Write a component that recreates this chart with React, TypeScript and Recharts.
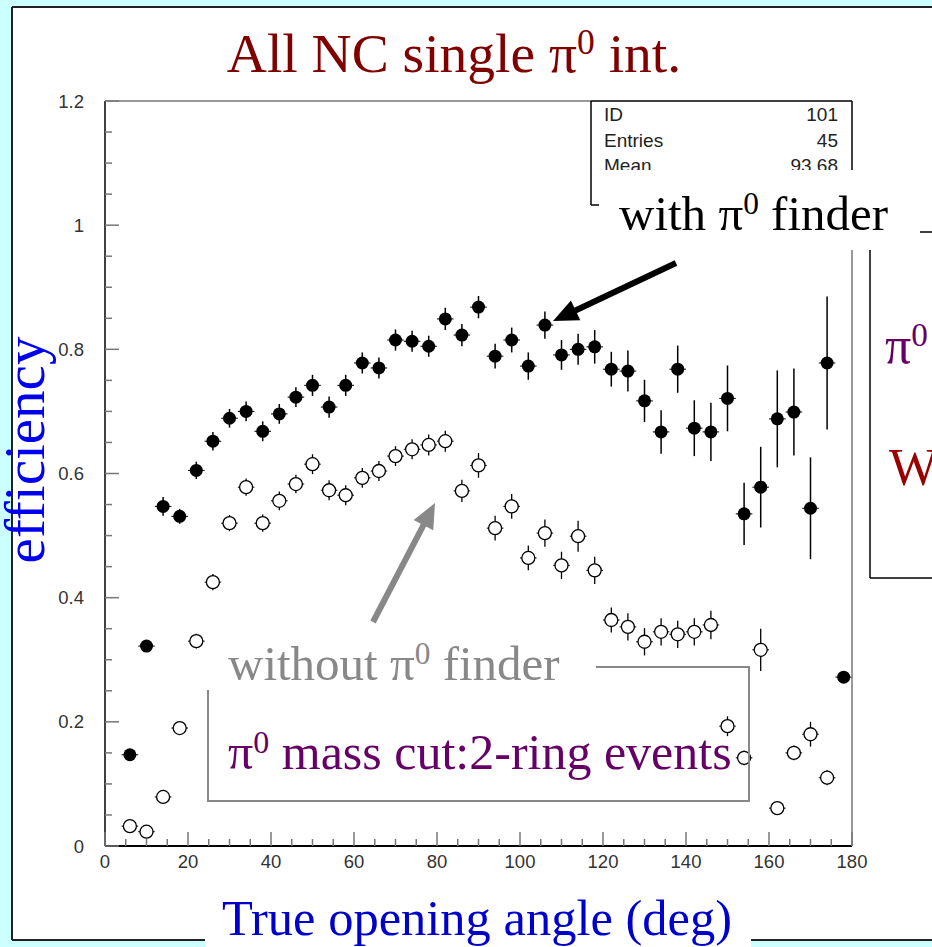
import { ScatterChart, Scatter, XAxis, YAxis, ErrorBar } from "recharts";

// bin centres (deg), 4 deg wide bins
const ANGLE = [6, 10, 14, 18, 22, 26, 30, 34, 38, 42, 46, 50, 54, 58, 62, 66, 70, 74, 78, 82, 86, 90,
  94, 98, 102, 106, 110, 114, 118, 122, 126, 130, 134, 138, 142, 146, 150, 154, 158, 162, 166, 170, 174, 178];
const HALF_BIN = 2;

// efficiency with pi0 finder (filled)
const WITH_FINDER = [0.147, 0.322, 0.547, 0.531, 0.605, 0.652, 0.689, 0.7, 0.668, 0.696, 0.723, 0.742,
  0.707, 0.742, 0.778, 0.77, 0.815, 0.813, 0.805, 0.849, 0.823, 0.868, 0.789, 0.815, 0.773, 0.839, 0.791,
  0.8, 0.804, 0.768, 0.765, 0.717, 0.667, 0.768, 0.673, 0.667, 0.721, 0.535, 0.578, 0.688, 0.699, 0.544,
  0.778, 0.272];
const WITH_FINDER_ERR = [0.008, 0.008, 0.015, 0.012, 0.014, 0.015, 0.015, 0.016, 0.016, 0.016, 0.016,
  0.017, 0.017, 0.017, 0.017, 0.017, 0.017, 0.017, 0.017, 0.018, 0.018, 0.018, 0.02, 0.02, 0.022, 0.022,
  0.024, 0.025, 0.027, 0.028, 0.033, 0.034, 0.035, 0.038, 0.045, 0.047, 0.053, 0.05, 0.065, 0.078, 0.07,
  0.082, 0.107, 0.008];

// efficiency without pi0 finder (open), no entry in the last bin
const WITHOUT_FINDER = [0.032, 0.023, 0.079, 0.19, 0.33, 0.425, 0.52, 0.578, 0.52, 0.556, 0.583, 0.615,
  0.573, 0.565, 0.593, 0.604, 0.628, 0.639, 0.646, 0.652, 0.572, 0.613, 0.512, 0.547, 0.464, 0.504, 0.452,
  0.499, 0.444, 0.364, 0.353, 0.329, 0.345, 0.341, 0.345, 0.356, 0.193, 0.142, 0.316, 0.061, 0.15, 0.18,
  0.11, null];
const WITHOUT_FINDER_ERR = [0.005, 0.005, 0.008, 0.01, 0.012, 0.013, 0.013, 0.014, 0.014, 0.015, 0.015,
  0.016, 0.016, 0.016, 0.016, 0.016, 0.016, 0.016, 0.017, 0.017, 0.018, 0.02, 0.02, 0.02, 0.02, 0.022,
  0.022, 0.025, 0.022, 0.02, 0.022, 0.022, 0.022, 0.022, 0.022, 0.023, 0.016, 0.012, 0.034, 0.008, 0.012,
  0.02, 0.012, null];

const X_MAJOR = [0, 20, 40, 60, 80, 100, 120, 140, 160, 180];
const X_LABELS = ["0", "20", "40", "60", "80", "100", "120", "140", "160", "180"];
const Y_MAJOR = [0, 0.2, 0.4, 0.6, 0.8, 1, 1.2];
const Y_LABELS = ["0", "0.2", "0.4", "0.6", "0.8", "1", "1.2"];
const STATS = [["ID", "101"], ["Entries", "45"], ["Mean", "93.68"]];

const withData = ANGLE.map((x, i) => ({ x, y: WITH_FINDER[i], ey: WITH_FINDER_ERR[i], ex: HALF_BIN }));
const withoutData = ANGLE.map((x, i) => ({ x, y: WITHOUT_FINDER[i], ey: WITHOUT_FINDER_ERR[i], ex: HALF_BIN }))
  .filter((d) => d.y != null);

const xTicks: number[] = [];
for (let v = 0; v <= 180; v += 5) xTicks.push(v);
const yTicks: number[] = [];
for (let i = 0; i <= 24; i++) yTicks.push(Math.round(i * 5) / 100);

const SERIF = "'Liberation Serif', 'Times New Roman', serif";
const SANS = "'Liberation Sans', Arial, sans-serif";
const TICK_GRAY = "#777";

function XTick(props: any) {
  const { x, y, payload } = props;
  const k = X_MAJOR.indexOf(payload.value);
  const major = k >= 0;
  return (
    <g>
      <line x1={x} x2={x} y1={y} y2={y - (major ? 14 : 7)} stroke={TICK_GRAY} strokeWidth={1.5} />
      {major && (
        <text x={x} y={y + 22} textAnchor="middle" fontFamily={SANS} fontSize={18.5} fill="#333">
          {X_LABELS[k]}
        </text>
      )}
    </g>
  );
}

function YTick(props: any) {
  const { x, y, payload } = props;
  const k = Y_MAJOR.findIndex((v) => Math.abs(v - payload.value) < 1e-6);
  const major = k >= 0;
  return (
    <g>
      <line x1={x} x2={x + (major ? 14 : 7)} y1={y} y2={y} stroke={TICK_GRAY} strokeWidth={1.5} />
      {major && (
        <text x={x - 21} y={y + 6.5} textAnchor="end" fontFamily={SANS} fontSize={18.5} fill="#333">
          {Y_LABELS[k]}
        </text>
      )}
    </g>
  );
}

const FilledDot = (p: any) => <circle cx={p.cx} cy={p.cy} r={6.5} fill="#000" />;
const OpenDot = (p: any) => <circle cx={p.cx} cy={p.cy} r={6.5} fill="#fff" stroke="#000" strokeWidth={1.3} />;

function Arrow({ x1, y1, x2, y2, color }: { x1: number; y1: number; x2: number; y2: number; color: string }) {
  const len = Math.hypot(x2 - x1, y2 - y1);
  const ux = (x2 - x1) / len;
  const uy = (y2 - y1) / len;
  const hl = 25;
  const hw = 11;
  const bx = x2 - ux * hl;
  const by = y2 - uy * hl;
  const pts = `${x2},${y2} ${bx - uy * hw},${by + ux * hw} ${bx + uy * hw},${by - ux * hw}`;
  return (
    <g>
      <line x1={x1} y1={y1} x2={bx + ux * 2} y2={by + uy * 2} stroke={color} strokeWidth={6} />
      <polygon points={pts} fill={color} />
    </g>
  );
}

// pi with a superscript zero; the next tspan must shift back down by size * 0.33
function Pi0({ size }: { size: number }) {
  return (
    <>
      π<tspan fontSize={size * 0.64} dy={-size * 0.33}>0</tspan>
    </>
  );
}

export default function App() {
  return (
    <div style={{ position: "absolute", left: 0, top: 0, width: 932, height: 947, overflow: "hidden", background: "#ccffff" }}>
      <svg width={932} height={947} style={{ position: "absolute", left: 0, top: 0 }}>
        <rect x={12} y={7} width={940} height={933} fill="#fff" />
        <line x1={12} y1={7} x2={932} y2={7} stroke="#222" strokeWidth={2} />
        <line x1={12} y1={7} x2={12} y2={940} stroke="#222" strokeWidth={2} />
        <line x1={12} y1={940} x2={932} y2={940} stroke="#222" strokeWidth={2} />
      </svg>

      <div style={{ position: "absolute", left: 0, top: 0 }}>
        <ScatterChart width={932} height={947} margin={{ top: 101, right: 80, bottom: 0, left: 0 }}>
          <XAxis
            type="number"
            dataKey="x"
            domain={[0, 180]}
            ticks={xTicks}
            interval={0}
            height={101}
            tickSize={0}
            tickMargin={0}
            tickLine={false}
            tick={<XTick />}
            axisLine={{ stroke: "#000", strokeWidth: 2 }}
            allowDataOverflow
          />
          <YAxis
            type="number"
            dataKey="y"
            domain={[0, 1.2]}
            ticks={yTicks}
            interval={0}
            width={105}
            tickSize={0}
            tickMargin={0}
            tickLine={false}
            tick={<YTick />}
            axisLine={{ stroke: "#000", strokeWidth: 1.5 }}
            allowDataOverflow
          />
          <Scatter data={withoutData} shape={OpenDot} isAnimationActive={false}>
            <ErrorBar dataKey="ey" direction="y" width={0} stroke="#000" strokeWidth={1.3} />
            <ErrorBar dataKey="ex" direction="x" width={0} stroke="#000" strokeWidth={1} />
          </Scatter>
          <Scatter data={withData} shape={FilledDot} isAnimationActive={false}>
            <ErrorBar dataKey="ey" direction="y" width={0} stroke="#000" strokeWidth={1.5} />
            <ErrorBar dataKey="ex" direction="x" width={0} stroke="#000" strokeWidth={1} />
          </Scatter>
        </ScatterChart>
      </div>

      <svg width={932} height={947} style={{ position: "absolute", left: 0, top: 0, pointerEvents: "none" }}>
        {/* plot frame: top and right edges */}
        <line x1={105} y1={101} x2={591} y2={101} stroke={TICK_GRAY} strokeWidth={1.5} />
        <line x1={852} y1={250} x2={852} y2={846} stroke={TICK_GRAY} strokeWidth={1.5} />

        {/* statistics box */}
        <line x1={591} y1={101} x2={852} y2={101} stroke="#000" strokeWidth={1.5} />
        <line x1={591} y1={101} x2={591} y2={205} stroke="#000" strokeWidth={1.5} />
        <line x1={852} y1={101} x2={852} y2={205} stroke="#000" strokeWidth={1.5} />
        <line x1={591} y1={205} x2={852} y2={205} stroke="#000" strokeWidth={1.5} />
        {STATS.map(([k, v], i) => (
          <g key={k}>
            <text x={604} y={121 + i * 25.5} fontFamily={SANS} fontSize={19} fill="#222">{k}</text>
            <text x={838} y={121 + i * 25.5} textAnchor="end" fontFamily={SANS} fontSize={19} fill="#222">{v}</text>
          </g>
        ))}

        {/* right-hand box, partly outside the page */}
        <line x1={870} y1={232} x2={932} y2={232} stroke="#000" strokeWidth={1.5} />
        <line x1={870} y1={232} x2={870} y2={578} stroke="#000" strokeWidth={1.5} />
        <line x1={870} y1={578} x2={932} y2={578} stroke="#000" strokeWidth={1.5} />
        <text x={885} y={363} fontFamily={SERIF} fontSize={52} fill="#660066"><Pi0 size={52} /></text>
        <text x={889} y={485} fontFamily={SERIF} fontSize={52} fill="#990000">W</text>

        {/* "with" label */}
        <rect x={599} y={170} width={321} height={80} fill="#fff" />
        <text x={619} y={230} fontFamily={SERIF} fontSize={49} fill="#000">
          with <Pi0 size={49} /><tspan dy={49 * 0.33}> finder</tspan>
        </text>
        <Arrow x1={676} y1={263} x2={553} y2={321} color="#000" />

        {/* "without" box */}
        <rect x={208} y={667} width={541} height={134} fill="none" stroke="#888" strokeWidth={2} />
        <rect x={207} y={640} width={389} height={50} fill="#fff" />
        <line x1={208} y1={690} x2={208} y2={801} stroke="#888" strokeWidth={2} />
        <text x={228} y={680} fontFamily={SERIF} fontSize={49} fill="#888">
          without <Pi0 size={49} /><tspan dy={49 * 0.33}> finder</tspan>
        </text>
        <text x={228} y={769} fontFamily={SERIF} fontSize={50} fill="#660066">
          <Pi0 size={50} /><tspan dy={50 * 0.33}> mass cut:2-ring events</tspan>
        </text>
        <Arrow x1={373} y1={622} x2={435} y2={503} color="#888" />

        {/* titles */}
        <text x={454} y={72} textAnchor="middle" fontFamily={SERIF} fontSize={55.5} fill="#800000">
          All NC single <Pi0 size={55.5} /><tspan dy={55.5 * 0.33}> int.</tspan>
        </text>
        <rect x={205} y={893} width={546} height={54} fill="#fff" />
        <text x={477} y={935} textAnchor="middle" fontFamily={SERIF} fontSize={50.5} fill="#0000cc">
          True opening angle (deg)
        </text>
        <text x={44} y={450} textAnchor="middle" fontFamily={SERIF} fontSize={57} fill="#0000ee" transform="rotate(-90 44 450)">
          efficiency
        </text>
      </svg>
    </div>
  );
}
